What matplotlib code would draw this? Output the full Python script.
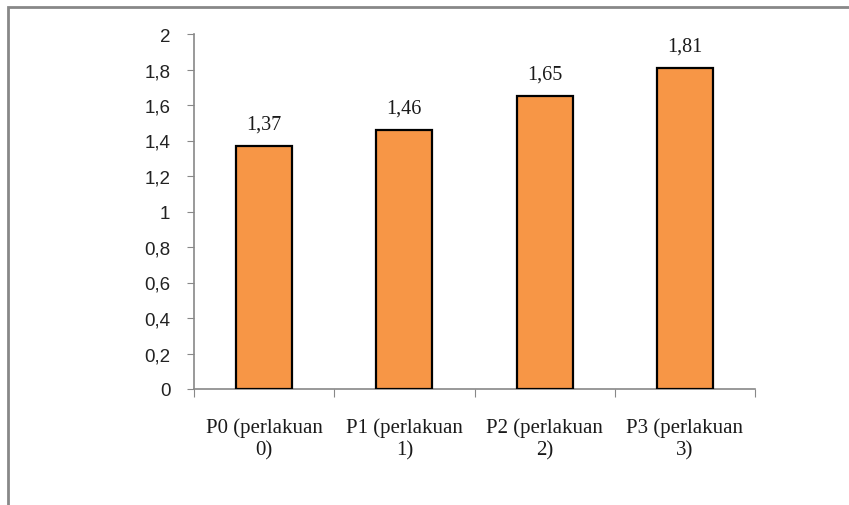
import matplotlib.pyplot as plt
from matplotlib.patches import Rectangle

# data
labels = ['P0 (perlakuan\n0)', 'P1 (perlakuan\n1)', 'P2 (perlakuan\n2)', 'P3 (perlakuan\n3)']
values = [1.37, 1.46, 1.65, 1.81]
yticks = [0, 0.2, 0.4, 0.6, 0.8, 1, 1.2, 1.4, 1.6, 1.8, 2]

fig = plt.figure(figsize=(8.49, 5.06), dpi=100)
ax = fig.add_axes([194 / 849, 1 - 390 / 506, (755 - 194) / 849, (390 - 35) / 506])

x = range(len(values))
ax.bar(x, values, width=0.4, color='#F79646', edgecolor='black', linewidth=1.6, zorder=3)

for xi, v in zip(x, values):
    ax.text(xi, v + 0.07, f'{v:.2f}'.replace('.', ','), ha='center', va='bottom',
            fontsize=14.5, family='Liberation Serif', color='#1a1a1a')

ax.set_xlim(-0.5, len(values) - 0.5)
ax.set_ylim(0, 2)
ax.set_yticks(yticks)
ax.set_yticklabels([f'{t:g}'.replace('.', ',') for t in yticks],
                   fontsize=13.5, family='Liberation Sans', color='#222222')

# category ticks sit between the bars
ax.set_xticks([i - 0.5 for i in range(len(values) + 1)])
ax.set_xticklabels([])
ax.set_xticks(list(x), minor=True)
ax.set_xticklabels(labels, minor=True, fontsize=15, family='Liberation Serif',
                   linespacing=1.25, color='#1a1a1a')
ax.tick_params(axis='x', which='minor', length=0, pad=20)
ax.tick_params(axis='x', which='major', length=6, color='#888888', direction='out')
ax.tick_params(axis='y', length=5, color='#888888', direction='out', pad=12)

for s in ['top', 'right']:
    ax.spines[s].set_visible(False)
for s in ['left', 'bottom']:
    ax.spines[s].set_color('#888888')
    ax.spines[s].set_linewidth(1.2)

# outer chart border
fig.add_artist(Rectangle((8 / 849, -0.1), 1.2, 1 - 8 / 506 + 0.1, transform=fig.transFigure,
                         fill=False, edgecolor='#888888', linewidth=2))

fig.savefig('out.png', dpi=100)
